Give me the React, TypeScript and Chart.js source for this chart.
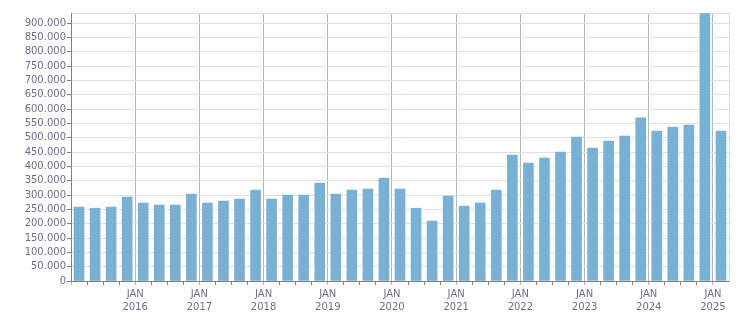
import React, { useEffect, useRef } from "react";
import { Chart, registerables } from "chart.js";

Chart.register(...registerables);

// Quarters from 2015 Q1 to 2025 Q1
const quarters: string[] = [
  "2015 Q1", "2015 Q2", "2015 Q3", "2015 Q4",
  "2016 Q1", "2016 Q2", "2016 Q3", "2016 Q4",
  "2017 Q1", "2017 Q2", "2017 Q3", "2017 Q4",
  "2018 Q1", "2018 Q2", "2018 Q3", "2018 Q4",
  "2019 Q1", "2019 Q2", "2019 Q3", "2019 Q4",
  "2020 Q1", "2020 Q2", "2020 Q3", "2020 Q4",
  "2021 Q1", "2021 Q2", "2021 Q3", "2021 Q4",
  "2022 Q1", "2022 Q2", "2022 Q3", "2022 Q4",
  "2023 Q1", "2023 Q2", "2023 Q3", "2023 Q4",
  "2024 Q1", "2024 Q2", "2024 Q3", "2024 Q4",
  "2025 Q1",
];

const values: number[] = [
  258000, 254000, 258000, 293000,
  272000, 265000, 265000, 303000,
  272000, 279000, 286000, 317000,
  286000, 300000, 300000, 342000,
  303000, 317000, 321000, 359000,
  321000, 254000, 209000, 296000,
  261000, 272000, 317000, 439000,
  411000, 429000, 450000, 502000,
  464000, 488000, 506000, 569000,
  523000, 537000, 544000, 933000,
  523000,
];

const yTicks: number[] = [
  0, 50000, 100000, 150000, 200000, 250000, 300000, 350000, 400000, 450000,
  500000, 550000, 600000, 650000, 700000, 750000, 800000, 850000, 900000,
];

const xYearLabels: string[] = [
  "2016", "2017", "2018", "2019", "2020", "2021", "2022", "2023", "2024", "2025",
];

const yMax = 935000;

const textColor = "#6f6e8f";
const axisColor = "#808080";

function fmt(v: number): string {
  return String(Math.round(v)).replace(/\B(?=(\d{3})+(?!\d))/g, ".");
}

export default function App() {
  const ref = useRef<HTMLCanvasElement | null>(null);
  useEffect(() => {
    document.body.style.margin = "0";
    const canvas = ref.current;
    if (!canvas) return;
    const chart = new Chart(canvas, {
      type: "bar",
      data: {
        datasets: [
          {
            label: "Value",
            data: values.map((v, i) => ({ x: i + 0.5, y: v })),
            backgroundColor: "#79b1d4",
            borderWidth: 0,
            barThickness: 10,
          },
        ],
      },
      options: {
        animation: false,
        responsive: false,
        maintainAspectRatio: false,
        layout: { padding: { top: 13, right: 22, bottom: 0, left: 0 } },
        plugins: { legend: { display: false }, tooltip: { enabled: false } },
        scales: {
          x: {
            type: "linear",
            min: 0,
            max: quarters.length,
            offset: false,
            afterFit: (s: any) => {
              s.height = 32;
            },
            afterBuildTicks: (s: any) => {
              s.ticks = quarters.map((_, i) => ({ value: i })).concat([{ value: quarters.length }]);
            },
            ticks: {
              autoSkip: false,
              maxRotation: 0,
              minRotation: 0,
              padding: 3,
              color: textColor,
              font: { family: "DejaVu Sans", size: 10, lineHeight: 1.3 },
              callback: (v: any) => {
                const n = Math.round(Number(v));
                if (n > 0 && n % 4 === 0 && xYearLabels[n / 4 - 1]) {
                  return ["JAN", xYearLabels[n / 4 - 1]];
                }
                return "";
              },
            },
            grid: {
              offset: false,
              tickLength: 4,
              color: (ctx: any) => {
                const n = ctx.tick ? ctx.tick.value : 0;
                if (n === quarters.length) return "#dddddd";
                return n % 4 === 0 ? "#b5b5b5" : "rgba(0,0,0,0)";
              },
              tickColor: (ctx: any) => {
                const n = ctx.tick ? ctx.tick.value : 0;
                if (n === quarters.length) return "rgba(0,0,0,0)";
                return n % 4 === 0 ? "#b5b5b5" : axisColor;
              },
            },
            border: { color: axisColor, width: 1 },
          },
          y: {
            type: "linear",
            min: 0,
            max: yMax,
            afterFit: (s: any) => {
              s.width = 71;
            },
            afterBuildTicks: (s: any) => {
              s.ticks = yTicks.map((v) => ({ value: v })).concat([{ value: yMax }]);
            },
            ticks: {
              autoSkip: false,
              padding: 1,
              color: textColor,
              font: { family: "DejaVu Sans", size: 10 },
              callback: (v: any) => {
                const n = Number(v);
                return yTicks.indexOf(n) >= 0 ? fmt(n) : "";
              },
            },
            grid: {
              color: "#e0e0e0",
              tickLength: 4,
              tickColor: (ctx: any) => {
                const n = ctx.tick ? ctx.tick.value : 0;
                return yTicks.indexOf(n) >= 0 ? axisColor : "rgba(0,0,0,0)";
              },
            },
            border: { color: axisColor, width: 1 },
          },
        },
      },
    });
    return () => chart.destroy();
  }, []);
  return (
    <div style={{ width: 751, height: 313 }}>
      <canvas ref={ref} width={751} height={313} style={{ display: "block" }} />
    </div>
  );
}
